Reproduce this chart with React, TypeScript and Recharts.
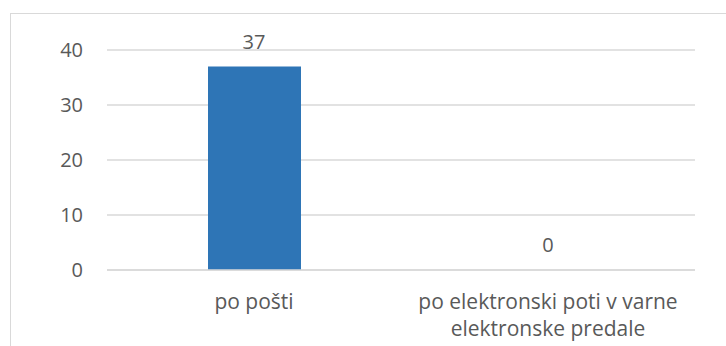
import { ComposedChart, Bar, Line, XAxis, YAxis, CartesianGrid, LabelList } from 'recharts';

const categories = ['po pošti', 'po elektronski poti v varne elektronske predale'];
const counts = [37, 0];
const yTicks = [0, 10, 20, 30, 40];

const data = categories.map((name, i) => ({ name, value: counts[i] }));

const FONT = '"Open Sans", sans-serif';
const TEXT = '#595959';

// splits long category names into lines of at most ~28 chars
function wrap(label: string, max = 28): string[] {
    const words = label.split(' ');
    const lines: string[] = [];
    let cur = '';
    for (const w of words) {
        const next = cur ? cur + ' ' + w : w;
        if (next.length > max && cur) {
            lines.push(cur);
            cur = w;
        } else {
            cur = next;
        }
    }
    if (cur) lines.push(cur);
    return lines;
}

function CategoryTick({ x, y, payload }: any) {
    const lines = wrap(payload.value);
    return (
        <text x={x} y={y + 31} textAnchor="middle" fill={TEXT} fontSize={21} fontFamily={FONT}>
            {lines.map((l, i) => (
                <tspan key={i} x={x} dy={i === 0 ? 0 : 27}>
                    {l}
                </tspan>
            ))}
        </text>
    );
}

// value above each category, also for zero-height bars
function ValueLabel({ x, y, value }: any) {
    return (
        <text x={x} y={y - 18} textAnchor="middle" fill={TEXT} fontSize={20} fontFamily={FONT}>
            {value}
        </text>
    );
}

export default function App() {
    return (
        <div
            style={{
                position: 'fixed',
                left: 0,
                top: 0,
                width: 726,
                height: 346,
                overflow: 'hidden',
                background: '#fff',
            }}
        >
            <div
                style={{
                    position: 'absolute',
                    left: 10,
                    top: 13,
                    width: 740,
                    height: 360,
                    border: '1px solid #d9d9d9',
                }}
            />
            <div style={{ position: 'absolute', left: 0, top: 0 }}>
                <ComposedChart
                    width={726}
                    height={346}
                    data={data}
                    margin={{ top: 50, right: 31, left: 0, bottom: 46 }}
                    barSize={93}
                >
                    <CartesianGrid stroke="#d9d9d9" strokeWidth={1.5} vertical={false} />
                    <XAxis
                        dataKey="name"
                        height={30}
                        axisLine={{ stroke: '#d9d9d9', strokeWidth: 1.5 }}
                        tickLine={false}
                        interval={0}
                        tick={<CategoryTick />}
                    />
                    <YAxis
                        width={107}
                        domain={[0, 40]}
                        ticks={yTicks}
                        axisLine={false}
                        tickLine={false}
                        tickSize={0}
                        tickMargin={24}
                        tick={{ fill: TEXT, fontSize: 20, fontFamily: FONT }}
                    />
                    <Bar dataKey="value" fill="#2e75b6" isAnimationActive={false} />
                    {/* invisible series that only carries the value labels */}
                    <Line
                        dataKey="value"
                        stroke="none"
                        dot={false}
                        activeDot={false}
                        isAnimationActive={false}
                        legendType="none"
                    >
                        <LabelList dataKey="value" content={<ValueLabel />} />
                    </Line>
                </ComposedChart>
            </div>
        </div>
    );
}
